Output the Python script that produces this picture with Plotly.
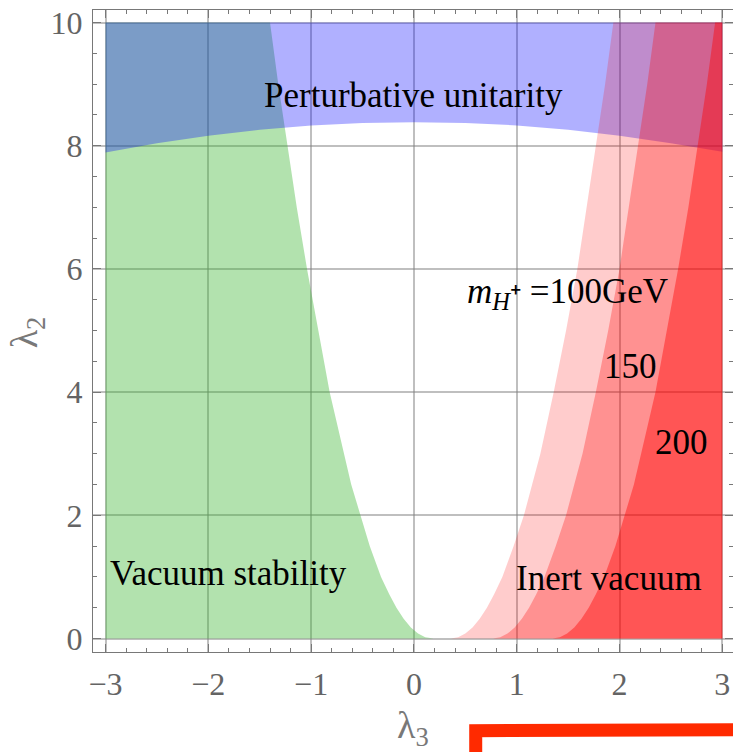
import plotly.graph_objects as go

# lambda_2 levels at which the region boundaries are sampled
lam2_levels = [0, 0.02, 0.08, 0.18, 0.32, 0.5, 0.72, 1, 1.5, 2, 2.5, 3, 4, 5, 6, 7, 8, 9, 10]

# right edge (in lambda_3) of the vacuum-stability region
stability_edge = [0.19, 0.11, 0.04, -0.03, -0.10, -0.17, -0.24, -0.32, -0.43, -0.52,
                  -0.61, -0.68, -0.82, -0.93, -1.04, -1.14, -1.23, -1.32, -1.40]

# left edges (in lambda_3) of the inert-vacuum regions, per charged Higgs mass
inert_masses = [100, 150, 200]
inert_edges = {
    100: [0.36, 0.43, 0.50, 0.57, 0.64, 0.71, 0.78, 0.86, 0.97, 1.07,
          1.15, 1.23, 1.36, 1.48, 1.59, 1.68, 1.77, 1.86, 1.94],
    150: [0.77, 0.84, 0.91, 0.98, 1.05, 1.12, 1.19, 1.27, 1.38, 1.48,
          1.56, 1.64, 1.77, 1.89, 2.00, 2.09, 2.18, 2.27, 2.35],
    200: [1.35, 1.42, 1.49, 1.56, 1.63, 1.70, 1.77, 1.85, 1.96, 2.05,
          2.14, 2.21, 2.35, 2.46, 2.57, 2.67, 2.76, 2.85, 2.93],
}

# lower edge of the perturbative-unitarity region
unitarity_lam3 = [-3, -2.5, -2, -1.5, -1, -0.5, 0, 0.5, 1, 1.5, 2, 2.5, 3]
unitarity_lam2 = [7.89, 8.04, 8.16, 8.26, 8.33, 8.37, 8.38, 8.37, 8.33, 8.26, 8.16, 8.04, 7.90]

lam3_min, lam3_max = -3, 3
lam2_min, lam2_max = 0, 10

x_ticks = [-3, -2, -1, 0, 1, 2, 3]
x_ticktext = ["\u22123", "\u22122", "\u22121", "0", "1", "2", "3"]
y_ticks = [0, 2, 4, 6, 8, 10]

fig = go.Figure()

# vacuum stability (left of its edge)
fig.add_trace(go.Scatter(
    x=[lam3_min] + stability_edge + [lam3_min],
    y=[lam2_min] + lam2_levels + [lam2_max],
    fill="toself", fillcolor="rgba(62,182,52,0.4)",
    mode="lines", line=dict(width=0), hoverinfo="skip", showlegend=False))

# perturbative unitarity (above its edge)
fig.add_trace(go.Scatter(
    x=unitarity_lam3 + [lam3_max, lam3_min],
    y=unitarity_lam2 + [lam2_max, lam2_max],
    fill="toself", fillcolor="rgba(0,0,255,0.31)",
    mode="lines", line=dict(width=0), hoverinfo="skip", showlegend=False))

# inert vacuum regions, stacked
inert_alpha = {100: 0.20, 150: 0.29, 200: 0.41}
for m in inert_masses:
    edge = inert_edges[m]
    fig.add_trace(go.Scatter(
        x=edge + [lam3_max, lam3_max],
        y=lam2_levels + [lam2_max, lam2_min],
        fill="toself", fillcolor=f"rgba(255,0,0,{inert_alpha[m]})",
        mode="lines", line=dict(width=0), hoverinfo="skip", showlegend=False))

serif = "Liberation Serif, Times New Roman, serif"
axis_gray = "rgb(120,120,120)"
label_gray = "rgb(100,100,100)"

common_axis = dict(
    showline=True, linecolor=axis_gray, linewidth=1.3, mirror="ticks",
    ticks="inside", ticklen=8, tickwidth=1.2, tickcolor=axis_gray,
    showgrid=True, gridcolor="rgba(128,128,128,0.5)", gridwidth=1.6,
    zeroline=False,
    tickfont=dict(family=serif, size=32, color=label_gray),
)

fig.update_xaxes(
    range=[-3.122, 3.104], tickmode="array", tickvals=x_ticks, ticktext=x_ticktext,
    minor=dict(dtick=0.2, tick0=0, ticks="inside", ticklen=4, tickcolor=axis_gray, showgrid=False),
    ticklabelstandoff=3,
    **common_axis)
fig.update_yaxes(
    range=[-0.219, 10.203], tickmode="array", tickvals=y_ticks,
    minor=dict(dtick=0.5, tick0=0, ticks="inside", ticklen=4, tickcolor=axis_gray, showgrid=False),
    ticklabelstandoff=3,
    **common_axis)

text_font = dict(family=serif, size=35, color="black")
annotations = [
    dict(x=0.0, y=8.82, text="Perturbative unitarity"),
    dict(x=-1.80, y=1.06, text="Vacuum stability"),
    dict(x=1.90, y=0.98, text="Inert vacuum"),
    dict(x=1.49, y=5.58,
         text="<i>m</i><sub><i>H</i><span style=\"font-size:34px\">\u207a</span></sub> =100GeV"),
    dict(x=2.11, y=4.41, text="150"),
    dict(x=2.60, y=3.19, text="200"),
]
for a in annotations:
    fig.add_annotation(xref="x", yref="y", showarrow=False, font=text_font, **a)

title_font = dict(family=serif, size=38, color="rgb(120,120,120)")
fig.add_annotation(xref="paper", yref="paper", x=0.5, y=-0.118, text="\u03bb<sub>3</sub>",
                   xanchor="center", yanchor="middle",
                   showarrow=False, font=title_font)
fig.add_annotation(xref="paper", yref="paper", x=-0.103, y=0.498, text="\u03bb<sub>2</sub>",
                   xanchor="center", yanchor="middle",
                   showarrow=False, font=title_font, textangle=-90)

# red marker stroke below the frame
fig.add_shape(type="path", xref="paper", yref="paper",
              path="M 0.598 -0.17 L 0.598 -0.1225 L 1.02 -0.121",
              line=dict(color="rgb(255,42,0)", width=13))

fig.update_layout(
    width=733, height=752,
    margin=dict(l=93, r=0, t=10, b=100),
    plot_bgcolor="white", paper_bgcolor="white",
    showlegend=False,
)

fig.write_html("out.html")
